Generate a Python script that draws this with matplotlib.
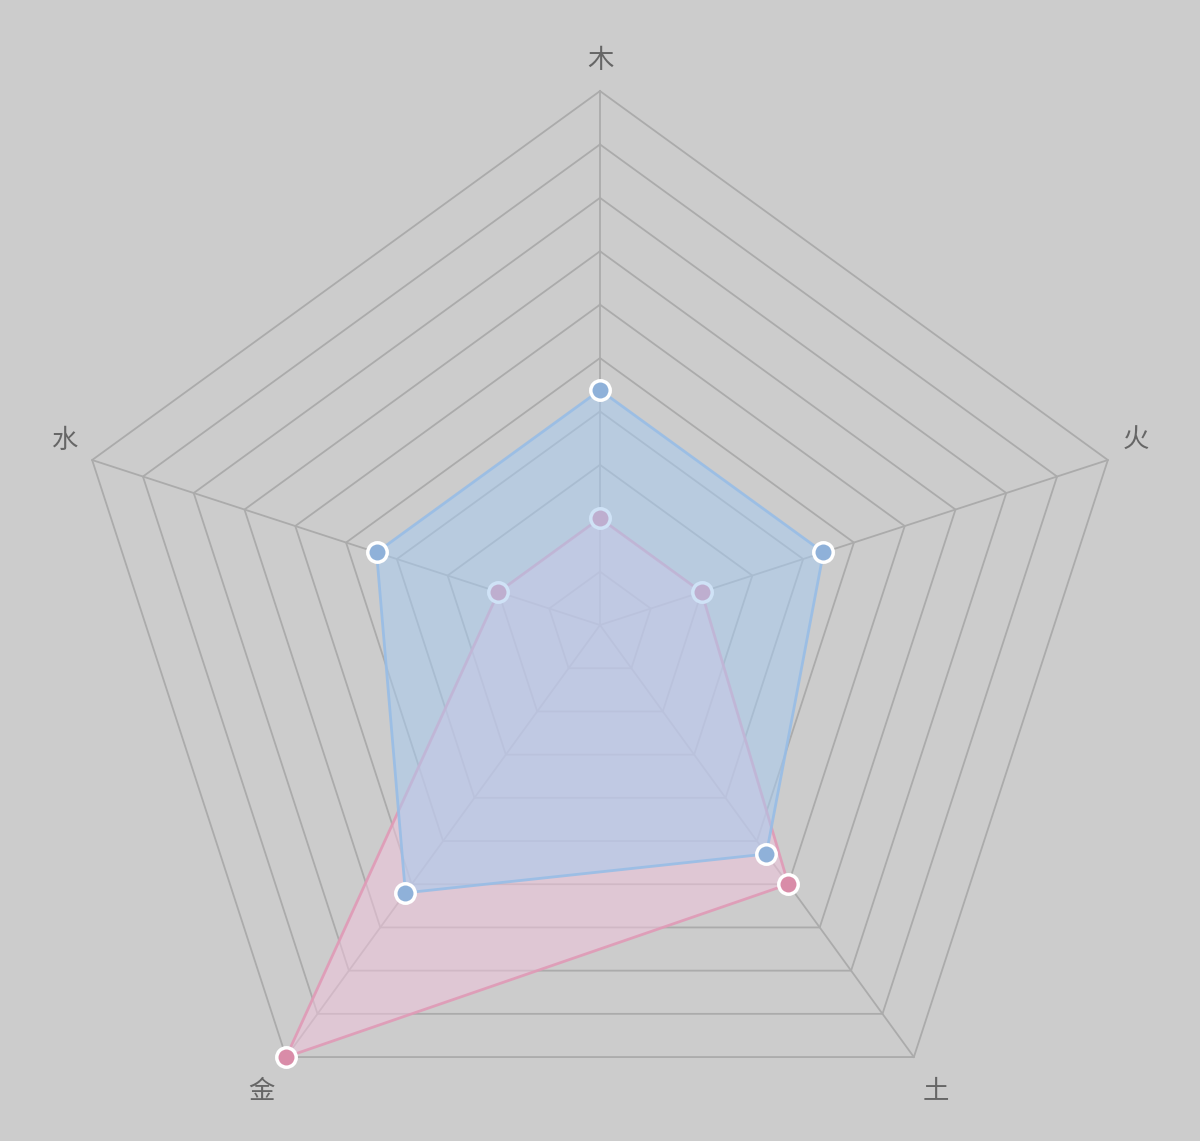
import matplotlib
matplotlib.use('Agg')
import matplotlib.pyplot as plt
import numpy as np

plt.rcParams['font.family'] = ['Noto Sans CJK SC', 'DejaVu Sans']

# data
categories = ['木', '火', '土', '金', '水']
series_blue = [4.4, 4.4, 5.3, 6.2, 4.4]
series_pink = [2.0, 2.0, 6.0, 10.0, 2.0]
r_max = 10
n_rings = 10

bg = '#cccccc'
grid_col = '#ababab'

fig = plt.figure(figsize=(12, 11.41), dpi=100, facecolor=bg)
ax = fig.add_axes([0.055, -0.0158, 0.89, 0.936], projection='polar')
ax.set_facecolor('none')
ax.set_theta_offset(np.pi / 2)
ax.set_theta_direction(-1)
ax.set_ylim(0, r_max)
ax.grid(False)
ax.spines['polar'].set_visible(False)
ax.set_xticks([])
ax.set_yticks([])

n = len(categories)
theta = np.linspace(0, 2 * np.pi, n, endpoint=False)
theta_c = np.append(theta, theta[0])

# pentagon grid
for k in range(1, n_rings + 1):
    r = r_max * k / n_rings
    ax.plot(theta_c, [r] * (n + 1), color=grid_col, lw=1.3, zorder=1, clip_on=False)
for t in theta:
    ax.plot([t, t], [0, r_max], color=grid_col, lw=1.3, zorder=1, clip_on=False)

def draw(vals, fill, edge, mark, z):
    v = np.append(vals, vals[0])
    ax.fill(theta_c, v, color=fill, alpha=0.55, lw=0, zorder=z)
    ax.plot(theta_c, v, color=edge, lw=2, alpha=0.9, zorder=z + 0.1)
    ax.plot(theta, vals, 'o', ms=14, mfc=mark, mec='white', mew=2.5,
            zorder=z + 0.2, clip_on=False)

draw(series_pink, '#f0c4dc', '#e09ab6', '#d98ca8', 2)
draw(series_blue, '#a8cbf0', '#98bde6', '#8fb1d9', 3)

# label nudges in pixels
nudges = [(0, -4), (-5, 9), (2, -6), (-4, -6), (5, 9)]
for t, lab, d in zip(theta, categories, nudges):
    ax.annotate(lab, (t, 10.65), xytext=d, textcoords='offset pixels',
                ha='center', va='center', fontsize=19, color='#666666',
                annotation_clip=False)

fig.savefig('out.png', dpi=100, facecolor=bg)
